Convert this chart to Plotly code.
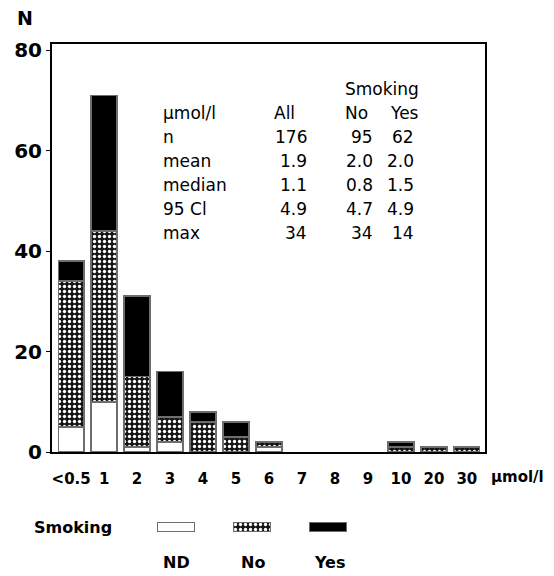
import plotly.graph_objects as go

W, H = 554, 576

categories = ["<0.5", "1", "2", "3", "4", "5", "6", "7", "8", "9", "10", "20", "30"]
nd_values = [5, 10, 1, 2, 0, 0, 1, 0, 0, 0, 0, 0, 0]
no_values = [29, 34, 14, 5, 6, 3, 1, 0, 0, 0, 1, 1, 1]
yes_values = [4, 27, 16, 9, 2, 3, 0, 0, 0, 0, 1, 0, 0]
y_ticks = [0, 20, 40, 60, 80]

series_names = ["ND", "No", "Yes"]

table_header = ["µmol/l", "All", "No", "Yes"]
table_rows = [
    ["n", "176", "95", "62"],
    ["mean", "1.9", "2.0", "2.0"],
    ["median", "1.1", "0.8", "1.5"],
    ["95 Cl", "4.9", "4.7", "4.9"],
    ["max", "34", "34", "14"],
]

def px(x):
    return x / W

def py(y):
    return 1 - y / H

def nz(vals):
    # empty segments are not drawn (no zero-height outline)
    return [v if v else None for v in vals]

outline = dict(color="#6e6e6e", width=1.5)
nd_marker = dict(color="white", line=outline)
no_marker = dict(color="black", line=outline,
                 pattern=dict(shape=".", fillmode="replace", bgcolor="#151515",
                              fgcolor="white", size=5, solidity=0.35))
yes_marker = dict(color="black", line=outline)

xs = list(range(len(categories)))
fig = go.Figure()
fig.add_trace(go.Bar(x=xs, y=nz(nd_values), marker=nd_marker, width=0.78, name="ND"))
fig.add_trace(go.Bar(x=xs, y=nz(no_values), marker=no_marker, width=0.78, name="No"))
fig.add_trace(go.Bar(x=xs, y=nz(yes_values), marker=yes_marker, width=0.78, name="Yes"))

# legend patches drawn on a small secondary axis
leg_x = [0, 1, 2]
for i, (nm, mk) in enumerate(zip(series_names, [nd_marker, no_marker, yes_marker])):
    fig.add_trace(go.Bar(x=[leg_x[i]], y=[1], marker=mk, width=0.49,
                         xaxis="x2", yaxis="y2", showlegend=False, hoverinfo="skip"))

fig.update_layout(
    width=W, height=H,
    margin=dict(l=0, r=0, t=0, b=0),
    paper_bgcolor="white", plot_bgcolor="white",
    barmode="stack", showlegend=False,
    xaxis=dict(domain=[px(52), px(485)], range=[-0.58, 12.55], automargin=False,
               tickmode="array", tickvals=xs, ticktext=categories,
               tickfont=dict(family="DejaVu Sans", size=15, color="black", weight="bold"),
               showline=True, linecolor="black", linewidth=2, mirror=True,
               ticks="", showgrid=False, zeroline=False, ticklabelstandoff=12),
    yaxis=dict(domain=[py(452), py(44)], range=[0, 81.2], automargin=False,
               tickmode="array", tickvals=y_ticks,
               tickfont=dict(family="DejaVu Sans", size=20, color="black", weight="bold"),
               showline=True, linecolor="black", linewidth=2, mirror=True,
               ticks="outside", ticklen=4, tickcolor="black",
               showgrid=False, zeroline=False),
    xaxis2=dict(domain=[px(138), px(366)], range=[-0.5, 2.5], anchor="y2",
                visible=False, automargin=False),
    yaxis2=dict(domain=[py(532), py(522)], range=[0, 1], anchor="x2",
                visible=False, automargin=False),
)

def note(text, x, y, font, xanchor="center"):
    return dict(text=text, x=px(x), y=py(y), xref="paper", yref="paper",
                xanchor=xanchor, yanchor="middle", showarrow=False, font=font)

ann = []
ann.append(note("<b>N</b>", 25, 18, dict(family="DejaVu Sans", size=19, color="black")))
ann.append(note("<b>µmol/l</b>", 489, 477, dict(family="DejaVu Sans", size=15, color="black"), "left"))

tfont = dict(family="DejaVu Sans", size=17, color="black")
ann.append(note("Smoking", 343, 89, tfont, "left"))
row_y0, row_dy = 113, 24
ann.append(note(table_header[0], 161, row_y0, tfont, "left"))
for txt, xl in zip(table_header[1:], [272, 343, 388]):
    ann.append(note(txt, xl, row_y0, tfont, "left"))
for r, row in enumerate(table_rows):
    yy = row_y0 + row_dy * (r + 1)
    ann.append(note(row[0], 161, yy, tfont, "left"))
    for txt, xr in zip(row[1:], [309, 375, 416]):
        ann.append(note(txt, xr, yy, tfont, "right"))

lfont = dict(family="DejaVu Sans", size=16, color="black")
ann.append(note("<b>Smoking</b>", 32, 527, lfont, "left"))
for nm, cx in zip(series_names, [176, 253, 330]):
    ann.append(note("<b>" + nm + "</b>", cx, 562, lfont))

fig.update_layout(annotations=ann)
fig.write_html("out.html")
